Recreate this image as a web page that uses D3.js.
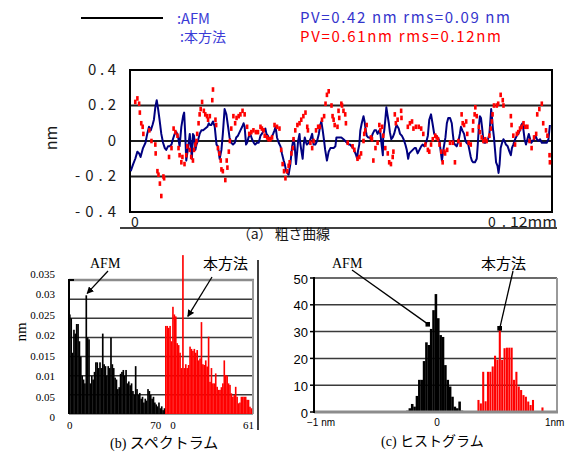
<!DOCTYPE html>
<html>
<head>
<meta charset="utf-8">
<script src="https://cdn.jsdelivr.net/npm/d3@7"></script>
<style>
body { margin: 0; background: #fff; }
svg { display: block; }
</style>
</head>
<body>
<div id="box"></div>
<script>
// (a) roughness profile, x in micrometres, height in nm
var afmProfile = [
 [0.2,-0.17],[0.9,-0.13],[1.5,-0.10],[2.1,-0.06],[2.6,-0.07],[3.0,-0.09],[3.7,-0.04],[4.4,-0.01],[4.9,0.04],[5.4,0.08],
 [5.9,0.06],[6.4,0.09],[6.8,0.12],[7.2,0.19],[7.6,0.23],[8.0,0.18],[8.4,0.12],[8.9,0.04],[9.4,-0.01],[9.9,-0.04],
 [10.3,-0.05],[10.8,-0.03],[11.3,-0.03],[11.8,-0.02],[12.2,0.01],[12.7,0.04],[13.2,0.05],[13.7,0.02],[14.1,-0.03],[14.6,0.08],
 [15.1,0.14],[15.4,0.16],[15.7,0.04],[16.0,-0.11],[16.5,-0.04],[17.0,0.04],[17.3,-0.03],[17.6,-0.10],[17.9,0.04],[18.2,0.03],
 [18.6,-0.05],[18.9,-0.02],[19.3,0.00],[19.8,0.04],[20.3,0.06],[20.8,0.06],[21.4,0.07],[22.0,0.08],[22.4,0.10],[22.7,0.09],
 [23.1,0.09],[23.6,0.11],[24.1,0.08],[24.6,-0.02],[25.0,-0.03],[25.5,-0.10],[26.0,-0.05],[26.4,0.04],[26.9,0.18],[27.4,0.15],
 [27.9,0.08],[28.3,0.02],[28.8,-0.01],[29.3,-0.02],[29.8,-0.01],[30.2,0.02],[30.7,0.03],[31.4,0.06],[31.9,0.08],[32.3,0.10],
 [32.6,0.08],[33.0,-0.02],[33.3,-0.01],[33.7,0.02],[34.2,0.04],[34.7,0.01],[35.2,-0.01],[35.6,-0.02],[36.1,-0.01],[36.6,-0.01],
 [37.1,0.03],[37.5,0.04],[38.0,0.06],[38.5,0.07],[38.8,0.04],[39.2,0.03],[39.6,0.01],[40.2,0.02],[40.7,0.04],[41.1,0.06],
 [41.4,0.08],[41.8,0.02],[42.3,-0.01],[42.8,-0.03],[43.2,-0.07],[43.7,-0.11],[44.0,-0.13],[44.4,-0.17],[44.7,-0.18],[45.1,-0.19],
 [45.6,-0.13],[46.1,-0.03],[46.5,0.01],[46.8,-0.02],[47.2,-0.13],[47.5,-0.07],[47.8,0.00],[48.2,0.04],[48.4,-0.01],[48.7,-0.05],
 [49.1,-0.10],[49.4,-0.02],[49.7,0.02],[50.1,-0.01],[50.3,-0.02],[50.8,-0.01],[51.3,0.01],[51.8,0.04],[52.2,-0.02],[52.7,-0.02],
 [53.2,0.00],[53.7,0.04],[54.1,0.09],[54.4,0.11],[54.8,0.06],[55.2,0.00],[55.5,-0.05],[56.0,-0.11],[56.5,-0.06],[57.0,-0.04],
 [57.4,-0.04],[57.9,-0.04],[58.4,-0.03],[58.7,0.02],[59.3,0.02],[60.1,0.02],[60.7,0.01],[61.2,0.00],[61.7,-0.01],[62.2,-0.02],
 [62.6,-0.02],[63.0,-0.03],[63.5,-0.04],[63.9,-0.06],[64.3,-0.08],[64.6,-0.10],[64.8,-0.06],[65.2,-0.02],[65.5,0.06],[65.9,0.10],
 [66.4,0.14],[66.7,0.11],[66.9,0.08],[67.3,0.03],[67.7,0.02],[68.1,0.02],[68.5,0.01],[69.0,0.04],[69.5,0.06],[70.0,0.06],
 [70.4,0.04],[70.9,0.06],[71.2,0.04],[71.6,-0.03],[71.9,-0.08],[72.0,0.02],[72.3,0.06],[72.6,0.12],[72.9,0.19],[73.2,0.15],
 [73.6,0.10],[73.9,0.05],[74.3,0.01],[74.7,0.02],[75.1,0.04],[75.5,0.07],[75.8,0.09],[76.4,0.07],[76.8,0.04],[77.3,0.03],
 [77.8,0.01],[78.3,-0.02],[78.7,-0.05],[79.1,-0.10],[79.4,-0.07],[79.9,-0.06],[80.4,-0.05],[80.9,-0.04],[81.3,-0.04],[81.8,-0.07],
 [82.3,-0.05],[82.8,-0.03],[83.2,-0.02],[83.7,-0.03],[84.2,-0.01],[84.7,0.03],[85.1,0.12],[85.6,0.15],[86.1,0.09],[86.5,0.04],
 [87.0,0.03],[87.5,0.02],[88.0,0.00],[88.3,-0.05],[88.7,-0.11],[89.1,-0.05],[89.7,0.02],[90.1,0.10],[90.5,0.13],[91.0,0.13],
 [91.5,0.10],[91.8,0.04],[92.1,-0.01],[92.4,-0.02],[92.9,-0.03],[93.4,0.00],[93.8,0.04],[94.1,0.08],[94.5,0.06],[95.0,0.04],
 [95.4,0.00],[95.7,-0.01],[96.2,-0.02],[96.5,-0.05],[96.9,-0.09],[97.2,-0.11],[97.6,-0.12],[98.1,-0.12],[98.6,-0.10],[98.9,-0.02],
 [99.2,0.08],[99.5,0.14],[99.8,0.13],[100.1,0.08],[100.4,0.02],[100.7,-0.01],[101.1,-0.01],[101.4,0.00],[101.8,0.01],[102.2,0.04],
 [102.5,0.12],[102.7,0.18],[102.9,0.14],[103.2,0.07],[103.5,0.02],[103.8,-0.05],[104.1,-0.12],[104.5,-0.14],[104.8,-0.18],[105.1,-0.13],
 [105.4,-0.04],[105.8,-0.01],[106.2,0.01],[106.5,0.00],[106.9,-0.02],[107.4,-0.03],[107.9,-0.06],[108.3,-0.08],[108.6,-0.04],[109.0,-0.02],
 [109.5,0.01],[110.0,0.03],[110.4,0.04],[110.9,0.06],[111.3,0.09],[111.6,0.10],[111.9,0.06],[112.2,0.01],[112.6,-0.02],[113.0,0.01],
 [113.4,0.04],[113.8,0.01],[114.1,-0.01],[114.5,0.00],[114.9,0.01],[115.3,0.03],[115.7,0.01],[116.1,0.00],[116.6,0.01],[117.1,-0.01],
 [117.5,-0.01],[118.0,-0.01],[118.5,-0.01],[119.0,0.01],[119.4,0.09]
];

var ownProfile = [
 [1.5,0.22],[2.1,0.24],[2.6,0.21],[2.8,0.16],[3.2,0.10],[3.6,0.08],[3.8,0.04],[5.5,0.06],[6.1,0.00],[7.2,-0.02],
 [7.3,-0.07],[7.8,-0.17],[8.1,-0.19],[8.5,-0.24],[8.9,-0.31],[9.5,-0.20],[9.7,-0.21],[11.1,-0.09],[11.8,-0.04],[12.4,0.07],
 [12.9,0.05],[13.5,0.03],[13.8,-0.04],[14.1,-0.08],[14.6,-0.12],[14.9,-0.09],[15.5,-0.13],[16.0,-0.08],[16.3,-0.03],[17.0,-0.05],
 [17.4,-0.09],[17.9,-0.11],[18.2,-0.05],[18.6,-0.02],[18.9,0.00],[19.1,0.04],[19.5,0.10],[19.8,0.15],[20.1,0.18],[20.5,0.22],
 [21.0,0.17],[21.4,0.15],[21.9,0.14],[22.2,0.12],[22.7,0.14],[23.4,0.23],[23.6,0.29],[24.3,0.12],[24.5,0.09],[25.0,-0.04],
 [25.4,-0.07],[25.8,-0.11],[26.0,-0.16],[26.4,-0.17],[27.1,-0.22],[27.5,-0.11],[27.7,-0.15],[28.1,-0.06],[28.4,0.00],[28.8,0.07],
 [29.4,0.14],[29.9,0.10],[30.3,0.13],[30.9,0.14],[31.4,0.15],[32.0,0.17],[32.6,0.15],[33.3,0.08],[33.9,0.04],[34.5,0.05],
 [35.1,0.06],[35.8,0.05],[36.4,0.05],[37.1,0.08],[37.5,0.07],[38.0,0.06],[38.3,0.03],[39.0,0.02],[39.4,0.01],[39.9,0.01],
 [40.4,0.02],[41.1,0.09],[41.8,0.08],[42.5,0.07],[43.0,-0.05],[43.4,-0.13],[43.8,-0.17],[44.2,-0.21],[44.7,-0.17],[45.1,-0.14],
 [45.4,-0.12],[45.9,-0.07],[46.3,-0.04],[46.5,0.01],[47.0,0.06],[47.6,0.09],[48.2,0.10],[48.7,0.12],[49.3,0.14],[49.9,0.16],
 [50.4,0.08],[50.6,0.06],[51.3,-0.01],[51.8,-0.04],[52.2,0.00],[52.9,0.06],[53.5,0.08],[54.0,0.08],[54.6,0.12],[55.2,0.14],
 [55.6,0.21],[56.0,0.26],[56.5,0.28],[57.3,0.20],[57.6,0.14],[57.9,0.12],[58.2,0.09],[59.0,0.08],[59.3,0.17],[59.5,0.13],
 [60.1,0.21],[60.3,0.20],[60.7,0.17],[61.2,0.15],[61.4,0.10],[61.9,-0.01],[63.3,-0.03],[63.8,-0.05],[64.7,-0.10],[65.2,-0.09],
 [65.7,-0.07],[66.4,0.00],[66.6,0.04],[66.9,0.06],[67.3,0.09],[68.5,0.02],[68.8,0.01],[69.2,-0.11],[69.8,-0.04],[70.4,-0.01],
 [70.9,0.09],[71.2,0.06],[71.7,0.08],[72.0,0.03],[72.6,-0.04],[73.3,-0.07],[73.7,-0.12],[74.2,-0.13],[74.7,-0.09],[74.9,-0.06],
 [75.3,0.15],[75.6,0.10],[76.1,0.12],[77.1,0.17],[77.2,0.13],[79.0,0.08],[79.6,0.10],[80.2,0.11],[80.6,0.07],[81.3,0.08],
 [82.1,0.08],[82.8,0.07],[83.4,0.04],[84.0,-0.02],[84.7,-0.05],[85.1,-0.06],[85.6,-0.02],[86.1,0.01],[86.8,0.03],[87.2,0.02],
 [87.6,0.01],[88.0,-0.02],[88.5,-0.06],[88.9,-0.12],[89.4,-0.06],[89.6,-0.07],[90.2,-0.05],[91.0,-0.01],[91.8,-0.01],[92.4,-0.12],
 [93.4,0.00],[94.0,-0.02],[94.3,0.15],[94.6,0.10],[95.0,0.09],[95.6,0.11],[95.9,0.04],[96.3,-0.01],[96.9,-0.02],[97.5,0.06],
 [97.6,0.11],[98.0,0.15],[98.2,0.19],[98.6,0.14],[99.2,0.08],[99.5,0.05],[100.0,0.02],[100.5,0.00],[101.0,0.01],[101.4,0.00],
 [102.2,0.03],[102.6,0.07],[102.9,0.11],[103.1,0.15],[103.5,0.20],[104.3,0.20],[104.7,0.21],[105.4,0.26],[106.0,0.23],[106.2,0.20],
 [108.3,0.14],[108.5,0.09],[109.0,0.03],[109.5,-0.02],[110.0,0.04],[110.4,0.05],[110.9,0.07],[111.4,0.08],[111.9,0.10],[112.4,0.08],
 [113.0,0.08],[113.6,0.00],[114.2,-0.04],[114.9,0.02],[115.5,0.04],[115.8,0.15],[116.4,0.18],[117.1,0.21],[117.5,0.10],[118.3,0.06],
 [118.7,0.03],[119.3,-0.08],[119.4,-0.12]
];
var profTicks = [0.4, 0.2, 0, -0.2, -0.4];
var profGrid = [0.2, 0, -0.2];

// (b) spectra, amplitude in nm per order
var specAfm = [
 0.026,0.025,0.016,0.022,0.021,0.0235,0.0235,0.019,0.015,0.010,
 0.009,0.008,0.031,0.020,0.0195,0.008,0.010,0.009,0.011,0.0135,
 0.0135,0.012,0.0135,0.012,0.021,0.013,0.0125,0.010,0.0125,0.012,
 0.020,0.013,0.012,0.0095,0.009,0.0065,0.007,0.0105,0.011,0.0115,
 0.010,0.0115,0.008,0.0085,0.0075,0.008,0.006,0.005,0.0125,0.0065,
 0.005,0.0055,0.004,0.0045,0.003,0.004,0.0035,0.0065,0.006,0.005,
 0.004,0.0045,0.003,0.0025,0.002,0.003,0.0015,0.002,0.001,0.0015
];
var specOwn = [
 0.023,0.023,0.0225,0.023,0.019,0.028,0.026,0.0255,0.0185,0.018,
 0.016,0.012,0.0415,0.012,0.013,0.012,0.0128,0.0176,0.017,0.0165,
 0.017,0.016,0.0167,0.014,0.0145,0.024,0.013,0.0128,0.014,0.0124,
 0.0202,0.0084,0.012,0.008,0.008,0.0106,0.0071,0.0063,0.0063,0.007,
 0.008,0.014,0.0102,0.010,0.008,0.0076,0.0054,0.0045,0.005,0.0071,
 0.0045,0.0028,0.003,0.0045,0.0045,0.0045,0.0045,0.0037,0.0037,0.0019,
 0.0015
];
var specTickVals = [0, 0.005, 0.01, 0.015, 0.02, 0.025, 0.03, 0.035];
var specTickText = ["0", "0.05", "0.01", "0.015", "0.02", "0.025", "0.03", "0.035"];

// (c) height histograms, counts per 0.02 nm bin
var histBin = 0.02;
var histAfmStart = -0.25;
var histAfm = [0.5,1.4,3,2,6,12,12,19,26,25,31,38,44,35,28.7,28,17.5,12,9.5,5.7,2,1.4,3.9,0.5];
var histOwnStart = 0.35;
var histOwn = [4.5,3.2,15,4,15,15,17,21,19.5,30.6,19.4,23.8,24,24,24,12,15,9.5,8.2,6.3,5.7,3.9,2.6,4.5,0,0,0,1.7];
var histTicks = [0, 10, 20, 30, 40, 50];

var jp = "'Noto Sans CJK JP', 'Noto Sans', sans-serif";
var serif = "'Liberation Serif', 'DejaVu Serif', serif";
var sans = "'Liberation Sans', Arial, sans-serif";

var svg = d3.select("#box").append("svg")
    .attr("width", 565)
    .attr("height", 452);

var defs = svg.append("defs");
defs.append("marker")
    .attr("id", "arrow")
    .attr("viewBox", "0 0 10 10")
    .attr("refX", 9).attr("refY", 5)
    .attr("markerWidth", 7).attr("markerHeight", 7)
    .attr("markerUnits", "userSpaceOnUse")
    .attr("orient", "auto")
    .append("path").attr("d", "M0,0 L10,5 L0,10 z").attr("fill", "#000");
defs.append("marker")
    .attr("id", "square")
    .attr("viewBox", "0 0 10 10")
    .attr("refX", 5).attr("refY", 5)
    .attr("markerWidth", 5).attr("markerHeight", 5)
    .attr("markerUnits", "userSpaceOnUse")
    .append("rect").attr("width", 10).attr("height", 10).attr("fill", "#000");

// ---------- legend ----------
svg.append("line")
    .attr("x1", 81).attr("x2", 163).attr("y1", 18).attr("y2", 18)
    .attr("stroke", "#000").attr("stroke-width", 2);
svg.append("text").attr("x", 177).attr("y", 24)
    .attr("font-family", jp).attr("font-size", 14).attr("fill", "#3b3bd6")
    .attr("textLength", 33).attr("lengthAdjust", "spacingAndGlyphs")
    .text(":AFM");
svg.append("text").attr("x", 180).attr("y", 42)
    .attr("font-family", jp).attr("font-size", 14).attr("fill", "#3b3bd6")
    .text(":本方法");
svg.append("text").attr("x", 300).attr("y", 23)
    .attr("font-family", jp).attr("font-size", 15).attr("fill", "#3434cc")
    .attr("textLength", 210).attr("lengthAdjust", "spacing")
    .text("PV=0.42 nm rms=0.09 nm");
svg.append("text").attr("x", 300).attr("y", 42)
    .attr("font-family", jp).attr("font-size", 15).attr("fill", "#ff0000")
    .attr("textLength", 201).attr("lengthAdjust", "spacing")
    .text("PV=0.61nm rms=0.12nm");

// ---------- (a) profile ----------
var px = d3.scaleLinear().domain([0, 120]).range([130, 552]);
var py = d3.scaleLinear().domain([-0.4, 0.4]).range([212, 70]);

svg.append("g").selectAll("line")
    .data(profGrid)
    .enter().append("line")
    .attr("x1", px(0)).attr("x2", px(120))
    .attr("y1", function(d) { return py(d); })
    .attr("y2", function(d) { return py(d); })
    .attr("stroke", "#1e1e1e").attr("stroke-width", 2);

svg.append("rect")
    .attr("x", px(0)).attr("y", py(0.4))
    .attr("width", px(120) - px(0)).attr("height", py(-0.4) - py(0.4))
    .attr("fill", "none").attr("stroke", "#000").attr("stroke-width", 2);

svg.append("path")
    .datum(afmProfile)
    .attr("fill", "none")
    .attr("stroke", "#000080")
    .attr("stroke-width", 2)
    .attr("stroke-linejoin", "round")
    .attr("d", d3.line()
        .x(function(d) { return px(d[0]); })
        .y(function(d) { return py(d[1]); }));

svg.append("g").selectAll("rect")
    .data(ownProfile)
    .enter().append("rect")
    .attr("x", function(d) { return px(d[0]) - 1.3; })
    .attr("y", function(d) { return py(d[1]) - 2.3; })
    .attr("width", 2.6).attr("height", 4.6)
    .attr("fill", "#ff0000");

svg.append("g").selectAll("text")
    .data(profTicks)
    .enter().append("text")
    .attr("x", 116)
    .attr("y", function(d) { return py(d) - 2; })
    .attr("dominant-baseline", "central")
    .attr("text-anchor", "end")
    .attr("font-family", jp).attr("font-size", 15).attr("fill", "#1a1a1a")
    .attr("textLength", function(d) { return d === 0 ? 8 : (d < 0 ? 41 : 28); })
    .attr("lengthAdjust", "spacing")
    .text(function(d) { return d === 0 ? "0" : (d < 0 ? "-" : "") + Math.abs(d).toFixed(1); });

svg.append("text")
    .attr("transform", "translate(57,138) rotate(-90)")
    .attr("text-anchor", "middle")
    .attr("font-family", jp).attr("font-size", 16).attr("fill", "#1a1a1a")
    .text("nm");

svg.append("text").attr("x", 131).attr("y", 227)
    .attr("font-family", jp).attr("font-size", 14).attr("fill", "#1a1a1a")
    .text("0");
svg.append("text").attr("x", 488).attr("y", 227)
    .attr("font-family", jp).attr("font-size", 14).attr("fill", "#1a1a1a")
    .attr("textLength", 18).attr("lengthAdjust", "spacing")
    .text("0.");
svg.append("text").attr("x", 510).attr("y", 227)
    .attr("font-family", jp).attr("font-size", 14).attr("fill", "#1a1a1a")
    .attr("textLength", 47).attr("lengthAdjust", "spacingAndGlyphs")
    .text("12mm");

svg.append("text").attr("x", 237).attr("y", 239)
    .attr("font-family", jp).attr("font-size", 14).attr("fill", "#1a1a1a")
    .attr("textLength", 93).attr("lengthAdjust", "spacing")
    .text("（a） 粗さ曲線");
svg.append("line")
    .attr("x1", 120).attr("x2", 557).attr("y1", 228).attr("y2", 228)
    .attr("stroke", "#000").attr("stroke-width", 1.5);

// ---------- (b) spectrum ----------
var sxA = d3.scaleBand().domain(d3.range(specAfm.length)).range([69, 165]);
var sxO = d3.scaleBand().domain(d3.range(specOwn.length)).range([165, 252]);
var sy = d3.scaleLinear().domain([0, 0.035]).range([414, 280]);
var syLab = d3.scaleLinear().domain([0, 0.035]).range([417, 274]);

svg.append("g").selectAll("line")
    .data(specTickVals.slice(1, 7))
    .enter().append("line")
    .attr("x1", 69).attr("x2", 253)
    .attr("y1", function(d) { return sy(d); })
    .attr("y2", function(d) { return sy(d); })
    .attr("stroke", "#3a3a3a").attr("stroke-width", 1.5);
svg.append("line").attr("x1", 69).attr("x2", 254)
    .attr("y1", sy(0.035)).attr("y2", sy(0.035))
    .attr("stroke", "#8c8c8c").attr("stroke-width", 2.5);
svg.append("line").attr("x1", 253).attr("x2", 253)
    .attr("y1", sy(0.035)).attr("y2", sy(0))
    .attr("stroke", "#9a9a9a").attr("stroke-width", 2);
svg.append("line").attr("x1", 69).attr("x2", 253)
    .attr("y1", sy(0)).attr("y2", sy(0))
    .attr("stroke", "#9a9a9a").attr("stroke-width", 2);

svg.append("g").selectAll("rect")
    .data(specAfm)
    .enter().append("rect")
    .attr("x", function(d, i) { return sxA(i); })
    .attr("y", function(d) { return sy(d); })
    .attr("width", sxA.bandwidth() + 0.3)
    .attr("height", function(d) { return sy(0) - sy(d); })
    .attr("fill", "#000");
svg.append("g").selectAll("rect")
    .data(specOwn)
    .enter().append("rect")
    .attr("x", function(d, i) { return sxO(i); })
    .attr("y", function(d) { return sy(d); })
    .attr("width", sxO.bandwidth() + 0.2)
    .attr("height", function(d) { return sy(0) - sy(d); })
    .attr("fill", "#ff0000");

svg.append("line").attr("x1", 69).attr("x2", 69)
    .attr("y1", sy(0.035) - 1).attr("y2", sy(0))
    .attr("stroke", "#000").attr("stroke-width", 2);
svg.append("line").attr("x1", 68).attr("x2", 74)
    .attr("y1", sy(0.035)).attr("y2", sy(0.035))
    .attr("stroke", "#000").attr("stroke-width", 2);
svg.append("line").attr("x1", 258).attr("x2", 258)
    .attr("y1", 260).attr("y2", 430)
    .attr("stroke", "#000").attr("stroke-width", 1.5);

svg.append("g").selectAll("text")
    .data(specTickVals)
    .enter().append("text")
    .attr("x", 55)
    .attr("y", function(d) { return syLab(d); })
    .attr("dominant-baseline", "central")
    .attr("text-anchor", "end")
    .attr("font-family", serif).attr("font-size", 11)
    .text(function(d, i) { return specTickText[i]; });

svg.append("text")
    .attr("transform", "translate(26,332) rotate(-90)")
    .attr("text-anchor", "middle")
    .attr("font-family", serif).attr("font-size", 15)
    .text("nm");

var specXLabels = [
    { t: "0", x: sxA(0) + sxA.bandwidth() / 2 },
    { t: "70", x: sxA(specAfm.length - 1) - 8 },
    { t: "0", x: sxO(0) + 8 },
    { t: "61", x: sxO(specOwn.length - 1) - 2 }
];
svg.append("g").selectAll("text")
    .data(specXLabels)
    .enter().append("text")
    .attr("x", function(d) { return d.x; })
    .attr("y", 429)
    .attr("text-anchor", "middle")
    .attr("font-family", serif).attr("font-size", 11)
    .text(function(d) { return d.t; });

var capB = svg.append("text").attr("x", 110).attr("y", 448);
capB.append("tspan").attr("font-family", serif).attr("font-size", 14).text("(b) ");
capB.append("tspan").attr("font-family", jp).attr("font-size", 15).text("スペクトラム");

svg.append("text").attr("x", 90).attr("y", 268)
    .attr("font-family", serif).attr("font-size", 14).text("AFM");
svg.append("line")
    .attr("x1", 108).attr("y1", 271)
    .attr("x2", sxA(12) + sxA.bandwidth() / 2 + 1).attr("y2", sy(0.0315))
    .attr("stroke", "#000").attr("stroke-width", 1.3)
    .attr("marker-end", "url(#arrow)");
svg.append("text").attr("x", 203).attr("y", 269)
    .attr("font-family", jp).attr("font-size", 15).text("本方法");
svg.append("line")
    .attr("x1", 212).attr("y1", 277)
    .attr("x2", sxO(16)).attr("y2", sy(0.0255))
    .attr("stroke", "#000").attr("stroke-width", 1.3)
    .attr("marker-end", "url(#arrow)");

// ---------- (c) histogram ----------
var hx = d3.scaleLinear().domain([-1, 1]).range([318.5, 555.5]);
var hy = d3.scaleLinear().domain([0, 50]).range([412, 278]);

svg.append("g").selectAll("line")
    .data(histTicks.slice(1))
    .enter().append("line")
    .attr("x1", 314).attr("x2", 557)
    .attr("y1", function(d) { return hy(d); })
    .attr("y2", function(d) { return hy(d); })
    .attr("stroke", "#3a3a3a").attr("stroke-width", 1.5);
svg.append("line").attr("x1", 557).attr("x2", 557)
    .attr("y1", hy(50)).attr("y2", hy(0))
    .attr("stroke", "#9a9a9a").attr("stroke-width", 2);

svg.append("g").selectAll("rect")
    .data(histAfm)
    .enter().append("rect")
    .attr("x", function(d, i) { return hx(histAfmStart + i * histBin - histBin / 2); })
    .attr("y", function(d) { return hy(d); })
    .attr("width", hx(histBin) - hx(0) + 0.2)
    .attr("height", function(d) { return hy(0) - hy(d); })
    .attr("fill", "#000");
svg.append("g").selectAll("rect")
    .data(histOwn)
    .enter().append("rect")
    .attr("x", function(d, i) { return hx(histOwnStart + i * histBin - histBin / 2) + 0.15; })
    .attr("y", function(d) { return hy(d); })
    .attr("width", hx(histBin) - hx(0) - 0.3)
    .attr("height", function(d) { return hy(0) - hy(d); })
    .attr("fill", "#ff0000");

svg.append("line").attr("x1", 314).attr("x2", 558)
    .attr("y1", hy(0)).attr("y2", hy(0))
    .attr("stroke", "#8c8c8c").attr("stroke-width", 3);
svg.append("line").attr("x1", 314).attr("x2", 314)
    .attr("y1", hy(50) - 1).attr("y2", hy(0) + 1)
    .attr("stroke", "#000").attr("stroke-width", 2);
svg.append("g").selectAll("line")
    .data(histTicks)
    .enter().append("line")
    .attr("x1", 310).attr("x2", 314)
    .attr("y1", function(d) { return hy(d); })
    .attr("y2", function(d) { return hy(d); })
    .attr("stroke", "#000").attr("stroke-width", 1.5);

svg.append("g").selectAll("text")
    .data(histTicks)
    .enter().append("text")
    .attr("x", 308)
    .attr("y", function(d) { return hy(d) + 1; })
    .attr("dominant-baseline", "central")
    .attr("text-anchor", "end")
    .attr("font-family", sans).attr("font-size", 13)
    .text(function(d) { return d; });

svg.append("text").attr("x", 307).attr("y", 426)
    .attr("font-family", sans).attr("font-size", 10).text("−1 nm");
svg.append("text").attr("x", hx(0)).attr("y", 426)
    .attr("text-anchor", "middle")
    .attr("font-family", sans).attr("font-size", 10).text("0");
svg.append("text").attr("x", 545).attr("y", 426)
    .attr("font-family", sans).attr("font-size", 10).text("1nm");

var capC = svg.append("text").attr("x", 381).attr("y", 446);
capC.append("tspan").attr("font-family", serif).attr("font-size", 14).text("(c) ");
capC.append("tspan").attr("font-family", jp).attr("font-size", 14).text("ヒストグラム");

svg.append("text").attr("x", 332).attr("y", 268)
    .attr("font-family", serif).attr("font-size", 14).text("AFM");
svg.append("line")
    .attr("x1", 352).attr("y1", 270)
    .attr("x2", hx(-0.076)).attr("y2", hy(32.8))
    .attr("stroke", "#000").attr("stroke-width", 1.3)
    .attr("marker-end", "url(#square)");
svg.append("text").attr("x", 481).attr("y", 269)
    .attr("font-family", jp).attr("font-size", 15).text("本方法");
svg.append("line")
    .attr("x1", 513).attr("y1", 271)
    .attr("x2", hx(0.53)).attr("y2", hy(31.3))
    .attr("stroke", "#000").attr("stroke-width", 1.3)
    .attr("marker-end", "url(#square)");
</script>
</body>
</html>
